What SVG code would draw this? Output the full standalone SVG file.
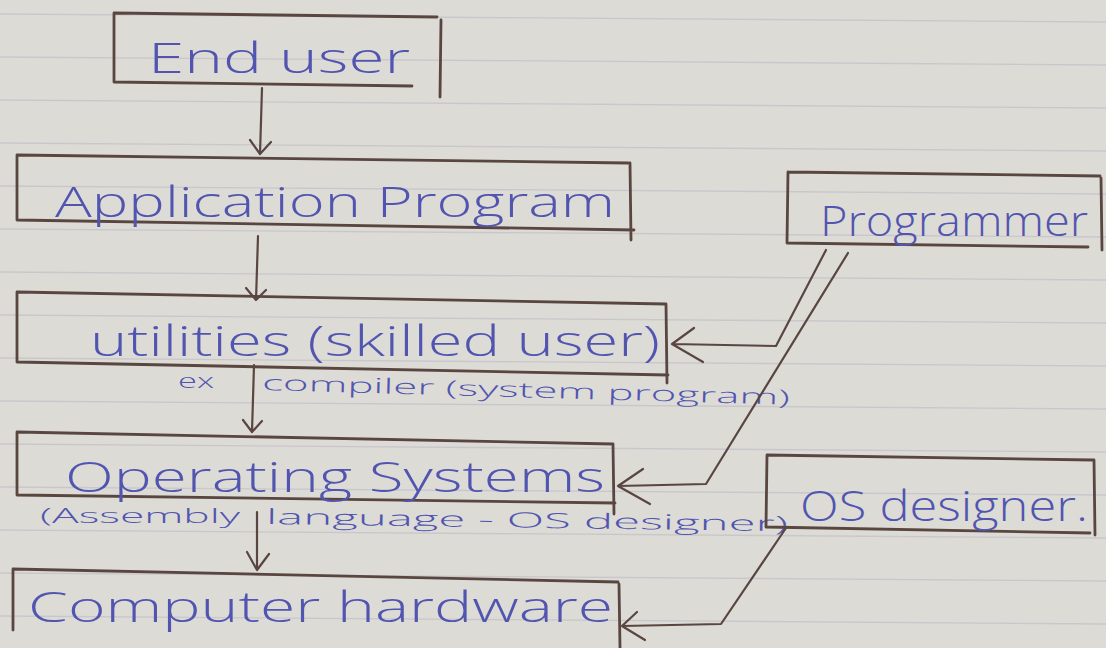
<svg xmlns="http://www.w3.org/2000/svg" width="1106" height="648" viewBox="0 0 1106 648">
  <style>
    .box { fill: none; stroke: #5a4640; stroke-width: 2.8; stroke-linecap: round; stroke-linejoin: round; }
    .wire { fill: none; stroke: #5a4640; stroke-width: 2.2; stroke-linecap: round; stroke-linejoin: round; }
    .rule { stroke: #c9c7cc; stroke-width: 1.4; }
    .ink { fill: #5155b0; font-family: "Open Sans", "Lato", "Liberation Sans", sans-serif; font-weight: 300; }
    .big { font-size: 42px; }
    .note { font-size: 21px; }
  </style>

  <!-- notebook page -->
  <rect x="0" y="0" width="1106" height="648" fill="#dddbd6"/>
  <g id="ruling">
    <line class="rule" x1="0" y1="14" x2="1106" y2="22"/>
    <line class="rule" x1="0" y1="57" x2="1106" y2="65"/>
    <line class="rule" x1="0" y1="100" x2="1106" y2="108"/>
    <line class="rule" x1="0" y1="143" x2="1106" y2="151"/>
    <line class="rule" x1="0" y1="186" x2="1106" y2="194"/>
    <line class="rule" x1="0" y1="229" x2="1106" y2="237"/>
    <line class="rule" x1="0" y1="272" x2="1106" y2="280"/>
    <line class="rule" x1="0" y1="315" x2="1106" y2="323"/>
    <line class="rule" x1="0" y1="358" x2="1106" y2="366"/>
    <line class="rule" x1="0" y1="401" x2="1106" y2="409"/>
    <line class="rule" x1="0" y1="444" x2="1106" y2="452"/>
    <line class="rule" x1="0" y1="487" x2="1106" y2="495"/>
    <line class="rule" x1="0" y1="530" x2="1106" y2="538"/>
    <line class="rule" x1="0" y1="573" x2="1106" y2="581"/>
    <line class="rule" x1="0" y1="616" x2="1106" y2="624"/>
  </g>

  <g id="end-user">
    <path class="box" d="M114 13 L437 17 M114 13 L114 82 L412 86 M441 20 L440 97"/>
    <text class="ink big" x="148" y="73" textLength="262" lengthAdjust="spacingAndGlyphs">End user</text>
  </g>

  <g id="application-program">
    <path class="box" d="M17 155 L628 163 M17 155 L17 220 L634 230 M630 163 L631 240"/>
    <text class="ink big" x="55" y="217" textLength="560" lengthAdjust="spacingAndGlyphs">Application Program</text>
  </g>

  <g id="utilities">
    <path class="box" d="M17 292 L666 304 M17 292 L17 362 L668 375 M666 304 L667 383"/>
    <text class="ink big" x="90" y="356" textLength="570" lengthAdjust="spacingAndGlyphs">utilities (skilled user)</text>
    <text class="ink note" x="178" y="388" textLength="36" lengthAdjust="spacingAndGlyphs">ex</text>
    <text class="ink note" x="262" y="390" textLength="528" lengthAdjust="spacingAndGlyphs" transform="rotate(1.6 262 390)">compiler (system program)</text>
  </g>

  <g id="operating-systems">
    <path class="box" d="M17 432 L613 444 M17 432 L17 495 L615 503 M613 444 L614 514"/>
    <text class="ink big" x="65" y="492" textLength="540" lengthAdjust="spacingAndGlyphs">Operating Systems</text>
    <text class="ink note" x="40" y="523" textLength="200" lengthAdjust="spacingAndGlyphs">(Assembly</text>
    <text class="ink note" x="266" y="524" textLength="522" lengthAdjust="spacingAndGlyphs" transform="rotate(0.8 266 524)">language - OS designer)</text>
  </g>

  <g id="computer-hardware">
    <path class="box" d="M13 569 L618 582 M13 569 L13 630 M619 584 L620 648"/>
    <text class="ink big" x="28" y="622" textLength="585" lengthAdjust="spacingAndGlyphs">Computer hardware</text>
  </g>

  <g id="programmer">
    <path class="box" d="M788 172 L1100 176 M788 172 L787 243 L1088 247 M1101 178 L1102 250"/>
    <text class="ink big" x="820" y="236" textLength="268" lengthAdjust="spacingAndGlyphs">Programmer</text>
  </g>

  <g id="os-designer">
    <path class="box" d="M767 455 L1093 460 M767 455 L766 527 L1090 533 M1094 460 L1095 535"/>
    <text class="ink big" x="800" y="521" textLength="288" lengthAdjust="spacingAndGlyphs">OS designer.</text>
  </g>

  <g id="connectors">
    <!-- downward flow between layers -->
    <path class="wire" d="M262 88 L260 154 M250 140 L260 154 L271 142"/>
    <path class="wire" d="M258 236 L256 300 M246 288 L256 300 L266 290"/>
    <path class="wire" d="M254 365 L252 432 M243 420 L252 432 L262 421"/>
    <path class="wire" d="M257 512 L257 570 M247 552 L257 570 L269 554"/>
    <!-- programmer to utilities -->
    <path class="wire" d="M826 250 L776 346 L672 344 M694 328 L672 344 L703 362"/>
    <!-- programmer to operating systems -->
    <path class="wire" d="M848 253 L706 484 L618 486 M643 469 L618 486 L650 504"/>
    <!-- os designer to hardware -->
    <path class="wire" d="M786 528 L721 624 L622 626 M637 612 L622 626 L645 640"/>
  </g>
</svg>
